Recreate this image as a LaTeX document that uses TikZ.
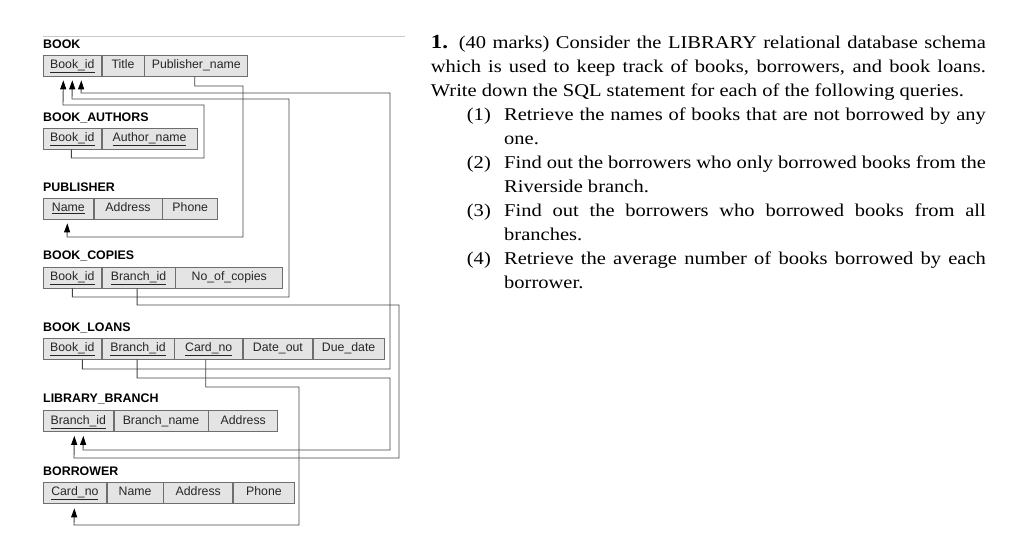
\documentclass[tikz,border=0pt]{standalone}
\usepackage{fontspec}
\setmainfont{Liberation Serif}
\newfontfamily\qfont[FakeStretch=1.14]{Liberation Serif}
\newfontfamily\dfont{Liberation Sans}
\usetikzlibrary{arrows.meta}
\definecolor{cellfill}{HTML}{E4E4E4}
\definecolor{cellline}{HTML}{6E6E6E}
\definecolor{fkline}{HTML}{444444}
\definecolor{ruleline}{HTML}{C8C8C8}
\newcommand{\pk}[1]{\underline{#1}}
\newcommand{\qitem}[1]{\hangindent=73.3pt\hangafter=1\noindent\makebox[73.3pt][l]{\hspace{36pt}(#1)}}

\begin{document}
\begin{tikzpicture}[x=1pt,y=-1pt,
  tname/.style={anchor=base west,inner sep=0pt,font=\dfont\bfseries\fontsize{12.4}{14}\selectfont},
  cell/.style={draw=cellline,fill=cellfill,line width=0.7pt,anchor=west,minimum height=21pt,inner sep=0pt,
    text height=9pt,text depth=3pt,text=black!85,font=\dfont\fontsize{12.3}{14}\selectfont},
  fk/.style={draw=fkline,line width=0.9pt,-{Triangle[length=9pt,width=6pt,color=black]}},
  qtext/.style={anchor=north west,inner sep=0pt,text width=555pt,align=justify,
    font=\qfont\fontsize{18}{24}\selectfont}]
  \useasboundingbox[fill=white] (0,0) rectangle (1024,554);
  \draw[ruleline,line width=1pt] (42.7,36) -- (405,36);

  % relations
  \node[tname] (t-book) at (43,48) {BOOK};
  \node[cell,minimum width=58pt] (bk-bid) at (43,65.5) {\pk{Book\_id}};
  \node[cell,minimum width=42pt] (bk-tit) at (bk-bid.east) {Title};
  \node[cell,minimum width=103pt] (bk-pub) at (bk-tit.east) {Publisher\_name};

  \node[tname] (t-auth) at (43,121) {BOOK\_AUTHORS};
  \node[cell,minimum width=58pt] (ba-bid) at (43,138.5) {\pk{Book\_id}};
  \node[cell,minimum width=95pt] (ba-aut) at (ba-bid.east) {\pk{Author\_name}};

  \node[tname] (t-pub) at (43,191) {PUBLISHER};
  \node[cell,minimum width=50pt] (pu-nam) at (43,208.5) {\pk{Name}};
  \node[cell,minimum width=68pt] (pu-adr) at (pu-nam.east) {Address};
  \node[cell,minimum width=55pt] (pu-pho) at (pu-adr.east) {Phone};

  \node[tname] (t-copy) at (43,259.5) {BOOK\_COPIES};
  \node[cell,minimum width=58pt] (bc-bid) at (43,277.5) {\pk{Book\_id}};
  \node[cell,minimum width=73pt] (bc-brn) at (bc-bid.east) {\pk{Branch\_id}};
  \node[cell,minimum width=107pt] (bc-noc) at (bc-brn.east) {No\_of\_copies};

  \node[tname] (t-loan) at (43,331) {BOOK\_LOANS};
  \node[cell,minimum width=58pt] (bl-bid) at (43,348.5) {\pk{Book\_id}};
  \node[cell,minimum width=72pt] (bl-brn) at (bl-bid.east) {\pk{Branch\_id}};
  \node[cell,minimum width=68pt] (bl-crd) at (bl-brn.east) {\pk{Card\_no}};
  \node[cell,minimum width=69pt] (bl-out) at (bl-crd.east) {Date\_out};
  \node[cell,minimum width=71pt] (bl-due) at (bl-out.east) {Due\_date};

  \node[tname] (t-lib) at (43,402.5) {LIBRARY\_BRANCH};
  \node[cell,minimum width=70pt] (lb-bid) at (43,421) {\pk{Branch\_id}};
  \node[cell,minimum width=94pt] (lb-nam) at (lb-bid.east) {Branch\_name};
  \node[cell,minimum width=69pt] (lb-adr) at (lb-nam.east) {Address};

  \node[tname] (t-bor) at (43,475) {BORROWER};
  \node[cell,minimum width=63pt] (bo-crd) at (43,492.5) {\pk{Card\_no}};
  \node[cell,minimum width=56pt] (bo-nam) at (bo-crd.east) {Name};
  \node[cell,minimum width=69pt] (bo-adr) at (bo-nam.east) {Address};
  \node[cell,minimum width=61pt] (bo-pho) at (bo-adr.east) {Phone};

  % foreign keys
  \draw[fk] ([xshift=-1pt]ba-bid.south) |- (204,158) |- (63,105) -- ([xshift=-9pt,yshift=-4pt]bk-bid.south);
  \draw[fk] (bc-bid.south) |- (289,297) |- (72,99) -- ([yshift=-4pt]bk-bid.south);
  \draw[fk] ([xshift=10pt]bl-bid.south) |- (390,369) |- (81,93) -- ([xshift=9pt,yshift=-4pt]bk-bid.south);
  \draw[fk] ([xshift=-1.5pt]bk-pub.south) |- (243,86) |- (67,237) -- ([xshift=-1pt,yshift=-4pt]pu-nam.south);
  \draw[fk] ([xshift=-1.5pt]bc-brn.south) |- (399,305) |- (74,458) -- ([xshift=-4pt,yshift=-4pt]lb-bid.south);
  \draw[fk] ([xshift=-1pt]bl-brn.south) |- (390,378) |- (83,450) -- ([xshift=5pt,yshift=-4pt]lb-bid.south);
  \draw[fk] ([xshift=-3pt]bl-crd.south) |- (299,387) |- (74,525) -- ([xshift=-0.5pt,yshift=-5pt]bo-crd.south);

  % question
  \node[qtext] (quest) at (430.7,35) {\noindent\textbf{\fontsize{20}{24}\selectfont 1.} (40 marks) Consider the LIBRARY relational database schema\linebreak
    which is used to keep track of books, borrowers, and book loans.\linebreak
    Write down the SQL statement for each of the following queries.\par
    \qitem{1}Retrieve the names of books that are not borrowed by any\linebreak one.\par
    \qitem{2}Find out the borrowers who only borrowed books from the\linebreak Riverside branch.\par
    \qitem{3}Find out the borrowers who borrowed books from all\linebreak branches.\par
    \qitem{4}Retrieve the average number of books borrowed by each\linebreak borrower.\par};
\end{tikzpicture}
\end{document}
